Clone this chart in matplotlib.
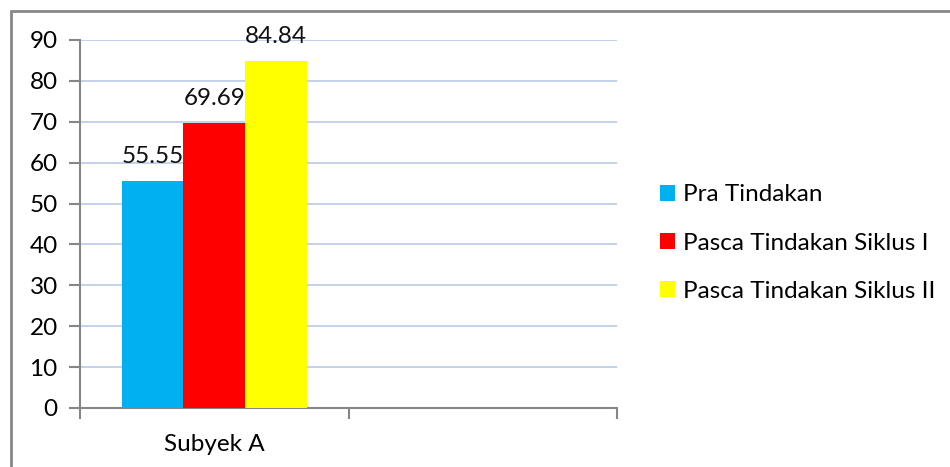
import matplotlib
matplotlib.use("Agg")
import matplotlib.pyplot as plt
from matplotlib.patches import Rectangle

categories = ["Subyek A", ""]
series_names = ["Pra Tindakan", "Pasca Tindakan Siklus I", "Pasca Tindakan Siklus II"]
values = [55.55, 69.69, 84.84]
colors = ["#00b0f0", "#ff0000", "#ffff00"]
yticks = [0, 10, 20, 30, 40, 50, 60, 70, 80, 90]

plt.rcParams['font.family'] = ['Lato', 'DejaVu Sans']
FS = 17.5

fig = plt.figure(figsize=(9.5, 4.67), dpi=100)
ax = fig.add_axes([80/950, 1-408/467, (617-80)/950, (408-40)/467])

w = 0.23
offsets = [-w, 0, w]
for name, v, c, off in zip(series_names, values, colors, offsets):
    ax.bar(0 + off, v, width=w, color=c, label=name, zorder=3)
    ax.annotate(f"{v:.2f}", (0 + off, v), xytext=(0, 10), textcoords="offset points",
                ha="center", va="bottom", fontsize=FS, color="#111111")

ax.set_xlim(-0.5, 1.5)
ax.set_ylim(0, 90)
ax.set_yticks(yticks)
ax.yaxis.grid(True, color="#b9c9e9", linewidth=1.2, zorder=0)
ax.set_axisbelow(True)

ax.set_xticks([-0.5, 0.5, 1.5])
ax.set_xticklabels([])
ax.set_xticks([0, 1], minor=True)
ax.set_xticklabels(categories, minor=True, fontsize=FS)
ax.tick_params(axis="x", which="minor", length=0, pad=19)
ax.tick_params(axis="x", which="major", length=8, color="#868686", width=1.5, direction="out")
ax.tick_params(axis="y", length=8, color="#868686", width=1.5, labelsize=FS, pad=8)

for s in ["top", "right"]:
    ax.spines[s].set_visible(False)
for s in ["left", "bottom"]:
    ax.spines[s].set_color("#868686")
    ax.spines[s].set_linewidth(1.5)

fig.legend(loc="center left", bbox_to_anchor=(638/950, 1-243/467), frameon=False,
           fontsize=FS, handlelength=0.62, handleheight=0.62, handletextpad=0.35,
           labelspacing=1.12)

fig.patches.append(Rectangle((11/950, -0.1), 1.2, 1 - 11/467 + 0.1, transform=fig.transFigure,
                             fill=False, edgecolor="#888888", linewidth=2, zorder=0))

fig.savefig("out.png", dpi=100)
